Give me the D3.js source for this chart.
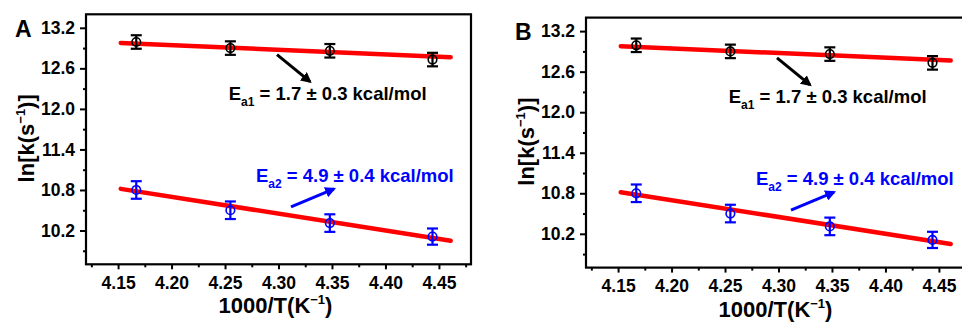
<!DOCTYPE html>
<html>
<head>
<meta charset="utf-8">
<script src="https://cdn.jsdelivr.net/npm/d3@7"></script>
<style>
  html, body { margin: 0; padding: 0; background: #fff; }
  svg { display: block; }
  text { font-family: "Liberation Sans", Arial, sans-serif; font-weight: bold; }
</style>
</head>
<body>
<svg id="chart" width="962" height="322"></svg>
<script>
// ---- data ----
const xValues = [4.167, 4.255, 4.348, 4.444];          // 1000/T (K^-1)
const series1 = [12.99, 12.90, 12.86, 12.73];           // ln k, black
const series1Err = [0.10, 0.10, 0.10, 0.10];
const series2 = [10.80, 10.50, 10.31, 10.11];           // ln k, blue
const series2Err = [0.13, 0.13, 0.13, 0.12];
const fitX = [4.1525, 4.461];
const fit1 = [12.977, 12.764];
const fit2 = [10.816, 10.049];
const xTicks = [4.15, 4.20, 4.25, 4.30, 4.35, 4.40, 4.45];
const xMinor = [4.125, 4.175, 4.225, 4.275, 4.325, 4.375, 4.425, 4.475];
const yTicks = [10.2, 10.8, 11.4, 12.0, 12.6, 13.2];
const yMinor = [9.9, 10.5, 11.1, 11.7, 12.3, 12.9];
const xDomain = [4.12, 4.48];
const yDomain = [9.7, 13.4];
const panels = ["A", "B"];
const label1 = {main: "E", sub: "a1", rest: " = 1.7 ± 0.3 kcal/mol"};
const label2 = {main: "E", sub: "a2", rest: " = 4.9 ± 0.4 kcal/mol"};
const label1Pos = [4.2535, 12.136];
const label2Pos = [4.2789, 10.924];
const arrow1 = [[4.2986, 12.804], [4.3295, 12.403]];
const arrow2 = [[4.3117, 10.549], [4.3519, 10.816]];

// ---- layout ----
const W = 385, H = 250;
const offsets = [[86, 14.3], [586, 17.6]];
const BLUE = "#0000ff", RED = "#ff0000";

const svg = d3.select("#chart");
const defs = svg.append("defs");
[["arrBlack", "#000"], ["arrBlue", BLUE]].forEach(([id, c]) => {
  defs.append("marker").attr("id", id)
    .attr("viewBox", "0 0 10 10").attr("refX", 8).attr("refY", 5)
    .attr("markerWidth", 3.6).attr("markerHeight", 3.6)
    .attr("markerUnits", "strokeWidth").attr("orient", "auto")
    .append("path").attr("d", "M0,0 L10,5 L0,10 z").attr("fill", c);
});

const x = d3.scaleLinear().domain(xDomain).range([0, W]);
const y = d3.scaleLinear().domain(yDomain).range([H, 0]);

panels.forEach((p, i) => {
  const g = svg.append("g").attr("transform", `translate(${offsets[i][0]},${offsets[i][1]})`);

  // axes
  const xa = g.append("g").attr("transform", `translate(0,${H})`)
    .call(d3.axisBottom(x).tickValues(xTicks).tickSize(5).tickPadding(7).tickFormat(d3.format(".2f")));
  g.append("g").attr("transform", `translate(0,${H})`)
    .call(d3.axisBottom(x).tickValues(xMinor).tickSize(3).tickFormat(""))
    .call(a => a.select(".domain").remove());
  const ya = g.append("g")
    .call(d3.axisLeft(y).tickValues(yTicks).tickSize(6).tickPadding(5).tickFormat(d3.format(".1f")));
  g.append("g")
    .call(d3.axisLeft(y).tickValues(yMinor).tickSize(3).tickFormat(""))
    .call(a => a.select(".domain").remove());
  g.selectAll(".domain").remove();
  g.selectAll(".tick line").attr("stroke", "#000").attr("stroke-width", 2);
  xa.selectAll("text").attr("font-size", 17.5).attr("fill", "#000");
  ya.selectAll("text").attr("font-size", 17.5).attr("fill", "#000");

  // frame
  g.append("rect").attr("x", 0).attr("y", 0).attr("width", W).attr("height", H)
    .attr("fill", "none").attr("stroke", "#000").attr("stroke-width", 2.2);

  // axis titles
  const xt = g.append("text").attr("x", x(4.3) - 3).attr("y", H + 49)
    .attr("text-anchor", "middle").attr("font-size", 22).attr("fill", "#000");
  xt.append("tspan").text("1000/T(K");
  xt.append("tspan").text("−1").attr("font-size", 13).attr("dy", -9);
  xt.append("tspan").text(")").attr("dy", 9);

  const yt = g.append("text")
    .attr("transform", `translate(-52,${H / 2 - 1}) rotate(-90)`)
    .attr("text-anchor", "middle").attr("font-size", 22).attr("fill", "#000");
  yt.append("tspan").text("ln[k(s");
  yt.append("tspan").text("−1").attr("font-size", 13).attr("dy", -9);
  yt.append("tspan").text(")]").attr("dy", 9);

  // panel label
  g.append("text").attr("x", -71).attr("y", 22.5).attr("font-size", 23)
    .attr("fill", "#000").text(p);

  // fit lines
  const line = d3.line().x(d => x(d[0])).y(d => y(d[1]));
  [fit1, fit2].forEach(f => {
    g.append("path").datum(fitX.map((xv, k) => [xv, f[k]]))
      .attr("d", line).attr("fill", "none").attr("stroke", RED)
      .attr("stroke-width", 4.5).attr("stroke-linecap", "round");
  });

  // points with error bars
  [[series1, series1Err, "#000"], [series2, series2Err, BLUE]].forEach(([vals, errs, c]) => {
    const pts = xValues.map((xv, k) => ({x: xv, y: vals[k], e: errs[k]}));
    const pg = g.append("g");
    pg.selectAll("circle").data(pts).join("circle")
      .attr("cx", d => x(d.x)).attr("cy", d => y(d.y)).attr("r", 4.3)
      .attr("fill", "none").attr("stroke", c).attr("stroke-width", 1.6);
    pg.selectAll("line.v").data(pts).join("line").attr("class", "v")
      .attr("x1", d => x(d.x)).attr("x2", d => x(d.x))
      .attr("y1", d => y(d.y + d.e)).attr("y2", d => y(d.y - d.e))
      .attr("stroke", c).attr("stroke-width", 2.2);
    ["top", "bot"].forEach(s => {
      pg.selectAll("line." + s).data(pts).join("line").attr("class", s)
        .attr("x1", d => x(d.x) - 5.5).attr("x2", d => x(d.x) + 5.5)
        .attr("y1", d => y(s === "top" ? d.y + d.e : d.y - d.e))
        .attr("y2", d => y(s === "top" ? d.y + d.e : d.y - d.e))
        .attr("stroke", c).attr("stroke-width", 2.2);
    });
  });

  // arrows
  [[arrow1, "#000", "arrBlack"], [arrow2, BLUE, "arrBlue"]].forEach(([a, c, m]) => {
    g.append("line")
      .attr("x1", x(a[0][0])).attr("y1", y(a[0][1]))
      .attr("x2", x(a[1][0])).attr("y2", y(a[1][1]))
      .attr("stroke", c).attr("stroke-width", 3).attr("marker-end", `url(#${m})`);
  });

  // annotations
  [[label1, label1Pos, "#000"], [label2, label2Pos, BLUE]].forEach(([lb, pos, c]) => {
    const t = g.append("text").attr("x", x(pos[0])).attr("y", y(pos[1]))
      .attr("font-size", 18.5).attr("fill", c);
    t.append("tspan").text(lb.main);
    t.append("tspan").text(lb.sub).attr("font-size", 12).attr("dy", 6);
    t.append("tspan").text(lb.rest).attr("dy", -6);
  });
});
</script>
</body>
</html>
